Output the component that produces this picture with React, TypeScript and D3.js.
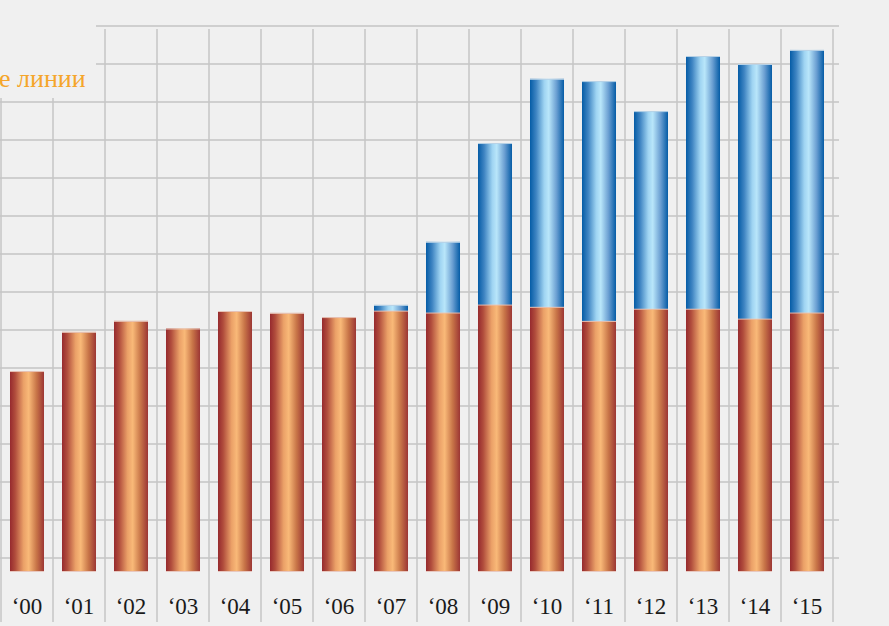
import React from "react";
import * as d3 from "d3";

const years = ["00","01","02","03","04","05","06","07","08","09","10","11","12","13","14","15"];
const baseSeries = [49.2, 59.5, 62.4, 60.4, 65.0, 64.5, 63.4, 65.1, 64.6, 66.7, 66.1, 62.4, 65.6, 65.6, 63.0, 64.6];
const newSeries = [0, 0, 0, 0, 0, 0, 0, 1.5, 18.6, 42.5, 60.0, 63.1, 52.0, 66.5, 67.0, 69.1];
const gridTicks = d3.range(0, 150, 10);
const legendLabel = "е линии";
const yMin = -3.684;
const yMax = 140;

const W = 889;
const H = 626;

export default function App() {
  const x = d3.scaleBand<string>().domain(years).range([1, 833]).paddingInner(0.346).paddingOuter(0.173);
  const y = d3.scaleLinear().domain([yMin, yMax]).range([572, 26]);
  const step = x.step();
  const bw = x.bandwidth();
  const gap = step * 0.346 / 2;
  const boundaries = years.map((d) => (x(d) as number) - gap).concat([(x(years[years.length - 1]) as number) + bw + gap]);

  return (
    <svg width={W} height={H} style={{ position: "fixed", left: 0, top: 0, background: "#f0f0f0" }}>
      <defs>
        <linearGradient id="gOrange" x1="0" x2="1" y1="0" y2="0">
          <stop offset="0%" stopColor="#962a2e" />
          <stop offset="15%" stopColor="#b04c3c" />
          <stop offset="40%" stopColor="#eba168" />
          <stop offset="55%" stopColor="#f9b978" />
          <stop offset="78%" stopColor="#c87548" />
          <stop offset="100%" stopColor="#9c3634" />
        </linearGradient>
        <linearGradient id="gBlue" x1="0" x2="1" y1="0" y2="0">
          <stop offset="0%" stopColor="#055ca6" />
          <stop offset="18%" stopColor="#3e84c2" />
          <stop offset="42%" stopColor="#9fd4f2" />
          <stop offset="55%" stopColor="#b9e6fa" />
          <stop offset="78%" stopColor="#6b9fd2" />
          <stop offset="100%" stopColor="#055ca6" />
        </linearGradient>
      </defs>
      <rect x={0} y={0} width={W} height={H} fill="#f0f0f0" />
      {gridTicks.map((t) => (
        <line key={"h" + t} x1={0} x2={839} y1={y(t)} y2={y(t)} stroke="#cfcfcf" strokeWidth={2} />
      ))}
      {boundaries.map((b, i) => (
        <line key={"v" + i} x1={b} x2={b} y1={29} y2={622} stroke="#c6c6c6" strokeWidth={1.5} />
      ))}
      <rect x={0} y={0} width={96} height={98} fill="#f0f0f0" />
      <text x={-1} y={87} textAnchor="start" fontFamily="'Liberation Serif', serif" fontSize={26} fill="#f5a52a">
        {legendLabel}
      </text>
      {years.map((d, i) => {
        const bx = x(d) as number;
        const oTop = y(baseSeries[i]);
        const bTop = y(baseSeries[i] + newSeries[i]);
        return (
          <g key={d}>
            <rect x={bx} y={oTop} width={bw} height={y(yMin) - oTop} fill="url(#gOrange)" />
            <line x1={bx} x2={bx + bw} y1={oTop + 0.5} y2={oTop + 0.5} stroke="#e6c2b6" strokeWidth={1} />
            <line x1={bx} x2={bx + bw} y1={y(yMin) - 0.5} y2={y(yMin) - 0.5} stroke="#e8c8c0" strokeWidth={1} />
            {newSeries[i] > 0 && (
              <>
                <rect x={bx} y={bTop} width={bw} height={oTop - bTop} fill="url(#gBlue)" />
                <line x1={bx} x2={bx + bw} y1={bTop + 0.5} y2={bTop + 0.5} stroke="#b8d2e6" strokeWidth={1} />
              </>
            )}
            <text
              x={bx + bw / 2}
              y={614}
              textAnchor="middle"
              fontFamily="'Liberation Serif', serif"
              fontSize={23}
              fill="#1a1a1a"
            >
              {"\u2018" + d}
            </text>
          </g>
        );
      })}
    </svg>
  );
}
